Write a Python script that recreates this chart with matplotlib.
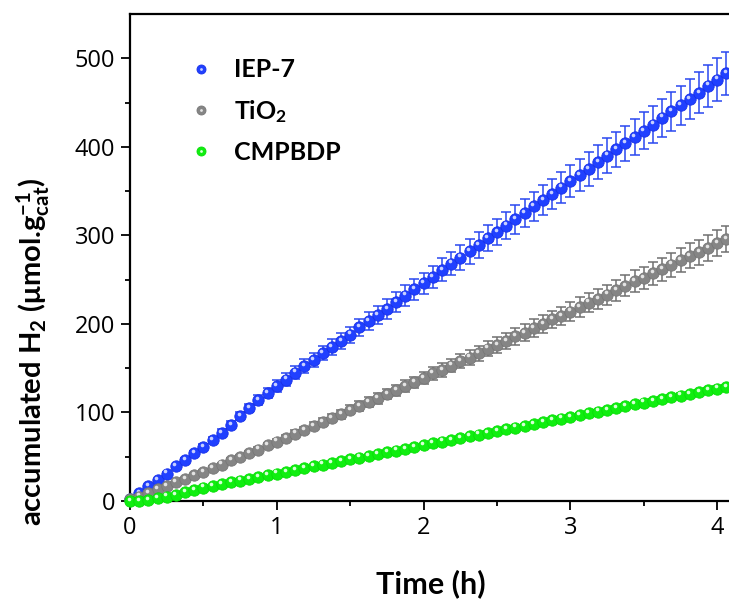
import numpy as np
import matplotlib
matplotlib.use("Agg")
import matplotlib.pyplot as plt
from matplotlib.lines import Line2D
from matplotlib.legend_handler import HandlerTuple
from matplotlib.transforms import ScaledTranslation

# sampling times (h)
time_h = [0.0, 0.0625, 0.125, 0.1875, 0.25, 0.3125, 0.375, 0.4375, 0.5, 0.5625,
          0.625, 0.6875, 0.75, 0.8125, 0.875, 0.9375, 1.0, 1.0625, 1.125, 1.1875,
          1.25, 1.3125, 1.375, 1.4375, 1.5, 1.5625, 1.625, 1.6875, 1.75, 1.8125,
          1.875, 1.9375, 2.0, 2.0625, 2.125, 2.1875, 2.25, 2.3125, 2.375, 2.4375,
          2.5, 2.5625, 2.625, 2.6875, 2.75, 2.8125, 2.875, 2.9375, 3.0, 3.0625,
          3.125, 3.1875, 3.25, 3.3125, 3.375, 3.4375, 3.5, 3.5625, 3.625, 3.6875,
          3.75, 3.8125, 3.875, 3.9375, 4.0, 4.0625]

# accumulated H2 (umol/g_cat)
iep7 = [2, 9, 17, 24, 31, 39, 46, 54, 61, 69, 77, 86, 96, 105, 114, 122, 130,
        137, 145, 152, 159, 167, 174, 181, 188, 196, 203, 210, 217, 225, 232, 239, 246,
        253, 261, 268, 275, 282, 289, 297, 304, 311, 318, 325, 333, 340, 347, 354, 361,
        368, 375, 383, 390, 397, 404, 411, 418, 425, 433, 440, 447, 454, 461, 469, 476, 483]
iep7_err = [0, 0.5, 1, 1, 1.5, 2, 2, 3, 3, 3.5, 4, 4, 5, 5, 6, 6, 6.5,
            7, 7, 8, 8, 8, 9, 9, 9, 10, 10, 10.5, 11, 11, 11.5, 12, 12,
            12.5, 13, 13, 14, 14, 14.5, 15, 15, 15.5, 16, 16, 16.5, 17, 17, 17.5, 18,
            18, 19, 19, 19.5, 20, 20, 20.5, 21, 21, 21.5, 22, 22, 22.5, 23, 23.5, 24, 24]

tio2 = [2, 5, 9, 13, 17, 21, 25, 29, 33, 37, 41, 46, 50, 54, 58, 63, 67,
        71, 76, 80, 85, 89, 94, 98, 103, 107, 112, 116, 121, 125, 130, 134, 139,
        144, 148, 153, 158, 162, 167, 172, 176, 181, 186, 190, 195, 200, 205, 209, 214,
        219, 224, 228, 233, 238, 243, 248, 252, 257, 262, 267, 272, 277, 281, 286, 291, 296]
tio2_err = [0, 0.5, 0.5, 0.5, 1, 1, 1, 1.5, 1.5, 2, 2, 2, 2.5, 2.5, 3, 3, 3.5,
            3.5, 4, 4, 4, 4.5, 4.5, 5, 5, 5.5, 5.5, 6, 6, 6, 6.5, 6.5, 7,
            7, 7.5, 7.5, 8, 8, 8.5, 8.5, 9, 9, 9.5, 9.5, 10, 10, 10, 10.5, 10.5,
            11, 11, 11.5, 11.5, 12, 12, 12.5, 12.5, 13, 13, 13.5, 13.5, 14, 14, 14.5, 14.5, 15]

cmpbdp = [0, 0, 1, 3, 5, 7, 10, 12, 15, 17, 19, 21, 23, 25, 27, 29, 31,
          33, 35, 37, 39, 41, 43, 45, 47, 49, 51, 53, 55, 57, 59, 61, 63,
          65, 67, 69, 71, 73, 75, 77, 79, 81, 83, 85, 87, 89, 91, 93, 95,
          97, 99, 101, 103, 105, 107, 109, 111, 113, 115, 117, 119, 121, 123, 125, 127, 129]
cmpbdp_err = [0, 0, 0, 0, 0, 0, 0, 0, 0.5, 0.5, 0.5, 0.5, 0.5, 0.5, 0.5, 0.5, 0.5,
              0.5, 0.5, 0.5, 1, 1, 1, 1, 1, 1, 1, 1, 1, 1, 1, 1, 1,
              1.5, 1.5, 1.5, 1.5, 1.5, 1.5, 1.5, 1.5, 1.5, 1.5, 1.5, 1.5, 1.5, 2, 2, 2,
              2, 2, 2, 2, 2, 2, 2, 2, 2, 2, 2.5, 2.5, 2.5, 2.5, 2.5, 2.5, 2.5]

labels = ["IEP-7", "TiO$_2$", "CMPBDP"]
colors = ["#2040ff", "#858585", "#10ee10"]
edge_colors = ["#1830e8", "#777777", "#08dd08"]
err_colors = ["#2a48f0", "#707070", "#10d010"]
shine = ["#c8d0ff", "#e4e4e4", "#d8ffd8"]

plt.rcParams["mathtext.default"] = "regular"

fig = plt.figure(figsize=(7.29, 6.03), dpi=100)
ax = fig.add_axes([130 / 729, 102 / 603, 599 / 729, 487 / 603])

hl = ax.transData + ScaledTranslation(-1.0 / 72, 1.6 / 72, fig.dpi_scale_trans)
series = [(iep7, iep7_err), (tio2, tio2_err), (cmpbdp, cmpbdp_err)]
for i, (vals, errs) in enumerate(series):
    ax.errorbar(time_h, vals, yerr=errs, fmt="none", ecolor=err_colors[i],
                elinewidth=1.1, capsize=3.3, capthick=1.1, zorder=2 + i * 3)
    ax.plot(time_h, vals, "o", ms=8.2, color=colors[i], mec=edge_colors[i],
            mew=0.6, zorder=3 + i * 3, clip_on=False)
    ax.plot(time_h, vals, "o", ms=2.6, color=shine[i], mec="none",
            transform=hl, zorder=4 + i * 3, clip_on=False)

ax.set_xlim(0, 4.08)
ax.set_ylim(0, 550)
ax.set_xticks([0, 1, 2, 3, 4])
ax.set_xticks([0.5, 1.5, 2.5, 3.5], minor=True)
ax.set_yticks([0, 100, 200, 300, 400, 500])
ax.set_yticks([50, 150, 250, 350, 450], minor=True)
ax.spines["right"].set_visible(False)
for s in ["left", "bottom", "top"]:
    ax.spines[s].set_linewidth(1.6)
ax.tick_params(which="major", direction="out", length=6.5, width=1.3,
               labelsize=17, pad=4)
ax.tick_params(which="minor", direction="out", length=3.8, width=1.3)
ax.tick_params(top=False, right=False)
for lab in ax.get_xticklabels() + ax.get_yticklabels():
    lab.set_fontfamily("Open Sans")

ax.set_xlabel("Time (h)", fontsize=22, fontweight="bold", family="Lato")
ax.xaxis.set_label_coords(0.502, -0.14)
fig.text(33 / 729, 1 - 352 / 603,
         "accumulated H$_2$ ($\\mu$mol.g$_{cat}^{-1}$)",
         rotation=90, ha="center", va="center",
         fontsize=21, fontweight="bold", family="Lato")

# legend balls with a small glint
handles = []
for i in range(3):
    ball = Line2D([], [], ls="none", marker="o", ms=6.5,
                  color=colors[i], mec=edge_colors[i], mew=0.6)
    glint = Line2D([], [], ls="none", marker="o", ms=2.0,
                   color=shine[i], mec="none")
    handles.append((ball, glint))
leg = ax.legend(handles, labels, loc="upper left", bbox_to_anchor=(0.065, 0.955),
                frameon=False, handletextpad=0.9, labelspacing=0.65,
                handlelength=0.8, handler_map={tuple: HandlerTuple(ndivide=1, pad=0)},
                prop={"family": "Lato", "weight": "bold", "size": 18})

fig.savefig("out.png", dpi=100)
